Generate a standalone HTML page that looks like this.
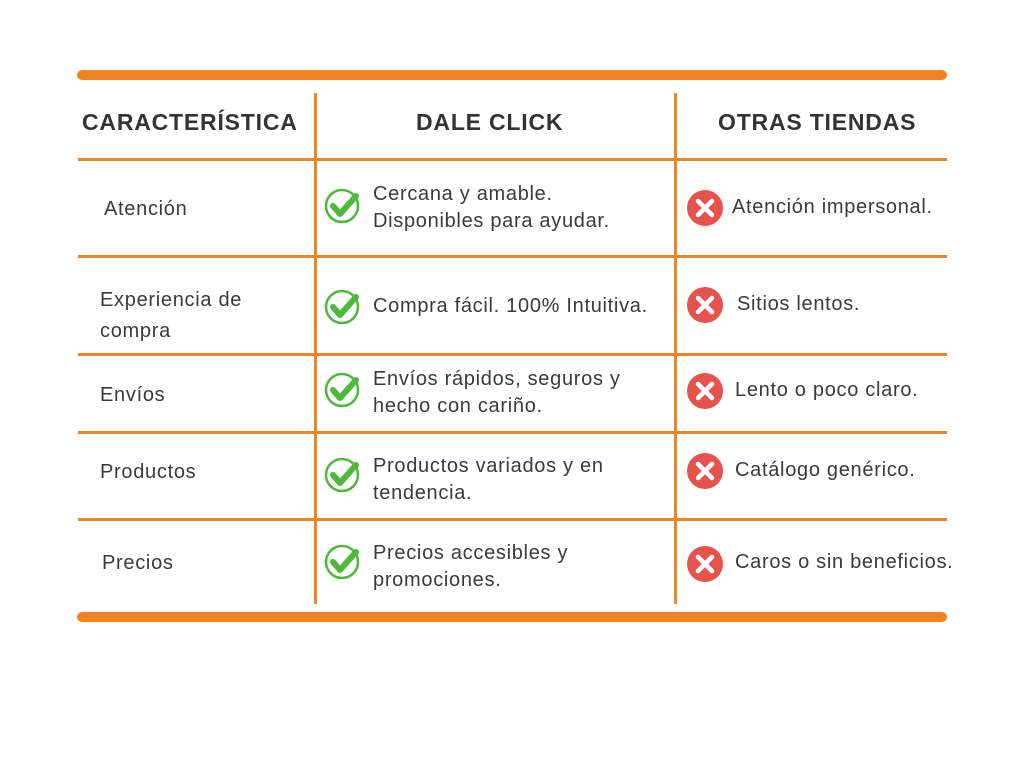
<!DOCTYPE html>
<html><head><meta charset="utf-8"><style>
body{margin:0;width:1024px;height:768px;background:#fff;position:relative;overflow:hidden;font-family:"Liberation Sans",sans-serif;color:#3a3a3a}
.bar{position:absolute;left:77px;width:870px;height:10px;background:#f08423;border-radius:5px}
.h{position:absolute;left:78px;width:869px;height:3px;background:#f08423}
.v{position:absolute;top:93px;height:511px;width:3px;background:#f08423}
.t{position:absolute;font-size:20px;line-height:27px;white-space:nowrap;letter-spacing:0.7px}
.hd{position:absolute;font-size:23px;font-weight:bold;color:#333;top:109px;letter-spacing:0.8px}
svg{position:absolute}
</style></head><body>
<div class="bar" style="top:70px"></div>
<div class="bar" style="top:612px"></div>
<div class="h" style="top:158px"></div>
<div class="h" style="top:255px"></div>
<div class="h" style="top:353px"></div>
<div class="h" style="top:431px"></div>
<div class="h" style="top:518px"></div>
<div class="v" style="left:314px"></div>
<div class="v" style="left:674px"></div>
<div class="hd" style="left:82px">CARACTERÍSTICA</div>
<div class="hd" style="left:416px">DALE CLICK</div>
<div class="hd" style="left:718px">OTRAS TIENDAS</div>

<div class="t" style="left:104px;top:196px">Atención</div>
<div class="t" style="left:100px;top:285px;line-height:31px">Experiencia de<br>compra</div>
<div class="t" style="left:100px;top:382px">Envíos</div>
<div class="t" style="left:100px;top:459px">Productos</div>
<div class="t" style="left:102px;top:550px">Precios</div>

<div class="t" style="left:373px;top:181px">Cercana y amable.<br>Disponibles para ayudar.</div>
<div class="t" style="left:373px;top:293px">Compra fácil. 100% Intuitiva.</div>
<div class="t" style="left:373px;top:366px">Envíos rápidos, seguros y<br>hecho con cariño.</div>
<div class="t" style="left:373px;top:453px">Productos variados y en<br>tendencia.</div>
<div class="t" style="left:373px;top:540px">Precios accesibles y<br>promociones.</div>

<div class="t" style="left:732px;top:194px">Atención impersonal.</div>
<div class="t" style="left:737px;top:291px">Sitios lentos.</div>
<div class="t" style="left:735px;top:377px">Lento o poco claro.</div>
<div class="t" style="left:735px;top:457px">Catálogo genérico.</div>
<div class="t" style="left:735px;top:549px">Caros o sin beneficios.</div>

<svg width="0" height="0"><defs>
<g id="ck"><circle cx="18" cy="18" r="16" fill="none" stroke="#4cb93a" stroke-width="2.5"/><path d="M9 18 L16 26 L32 8" fill="none" stroke="#4cb93a" stroke-width="6" stroke-linecap="round" stroke-linejoin="round"/></g>
<g id="xx"><circle cx="18" cy="18" r="18" fill="#e8524c"/><path d="M11 11 L25 25 M25 11 L11 25" stroke="#fff" stroke-width="4.5" stroke-linecap="round"/></g>
</defs></svg>
<svg style="left:324px;top:188px" width="38" height="38"><use href="#ck"/></svg>
<svg style="left:324px;top:289px" width="38" height="38"><use href="#ck"/></svg>
<svg style="left:324px;top:372px" width="38" height="38"><use href="#ck"/></svg>
<svg style="left:324px;top:457px" width="38" height="38"><use href="#ck"/></svg>
<svg style="left:324px;top:544px" width="38" height="38"><use href="#ck"/></svg>
<svg style="left:687px;top:190px" width="38" height="38"><use href="#xx"/></svg>
<svg style="left:687px;top:287px" width="38" height="38"><use href="#xx"/></svg>
<svg style="left:687px;top:373px" width="38" height="38"><use href="#xx"/></svg>
<svg style="left:687px;top:453px" width="38" height="38"><use href="#xx"/></svg>
<svg style="left:687px;top:546px" width="38" height="38"><use href="#xx"/></svg>
</body></html>
